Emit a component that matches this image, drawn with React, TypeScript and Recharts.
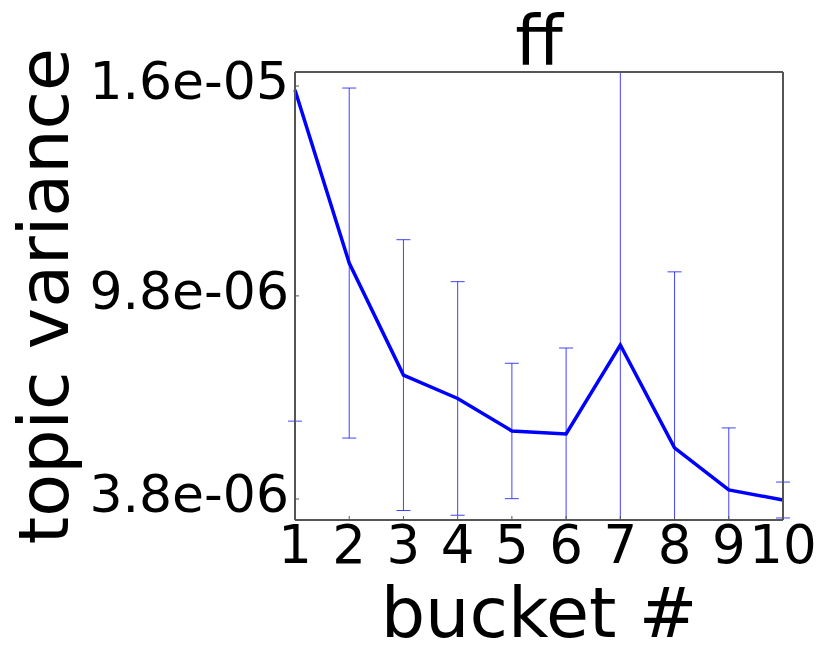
import { LineChart, Line, XAxis, YAxis, ErrorBar } from "recharts";

const buckets = [1, 2, 3, 4, 5, 6, 7, 8, 9, 10];
const meanVariance = [15.88e-6, 10.77e-6, 7.46e-6, 6.77e-6, 5.81e-6, 5.72e-6, 8.35e-6, 5.31e-6, 4.07e-6, 3.77e-6];
const stdVariance = [9.78e-6, 5.17e-6, 4.0e-6, 3.45e-6, 2.0e-6, 2.54e-6, 9.0e-6, 5.2e-6, 1.83e-6, 0.53e-6];
const yTicks = [3.8e-6, 9.8e-6, 1.6e-5];

const data = buckets.map((b, i) => ({ bucket: b, mean: meanVariance[i], err: stdVariance[i] }));

const font = "DejaVu Sans";
const spine = "#555555";
const yDomain = [3.1797e-6, 16.4136e-6];

// matplotlib-ish "1.6e-05"
const fmt = (v: number) => v.toExponential(1).replace(/e([+-])(\d)$/, "e$10$2");

export default function App() {
  return (
    <div style={{ position: "absolute", left: 0, top: 0, width: 830, height: 664, background: "#fff" }}>
      {/* error bars use the line's own plot-area clip */}
      <style>{`.recharts-errorBars, .recharts-errorBar { clip-path: url(#clipPath-variance); }`}</style>
      <LineChart
        width={830}
        height={664}
        data={data}
        margin={{ top: 71, right: 46, left: 0, bottom: 0 }}
      >
        <XAxis
          dataKey="bucket"
          type="number"
          domain={[1, 10]}
          ticks={buckets}
          interval={0}
          height={144}
          axisLine={{ stroke: spine, strokeWidth: 2 }}
          tickLine={{ stroke: spine }}
          tickSize={-4}
          tickMargin={9}
          tick={{ fill: "#000", fontSize: 53, fontFamily: font }}
          label={{
            value: "bucket #",
            position: "insideBottom",
            offset: 27,
            style: { fill: "#000", fontSize: 70, fontFamily: font },
          }}
        />
        <XAxis
          xAxisId="top"
          orientation="top"
          type="number"
          domain={[1, 10]}
          ticks={buckets}
          interval={0}
          height={1}
          axisLine={{ stroke: spine, strokeWidth: 2 }}
          tickLine={{ stroke: spine }}
          tickSize={-4}
          tick={false}
          label={{
            value: "ff",
            position: "top",
            offset: 6,
            style: { fill: "#000", fontSize: 69, fontFamily: font },
          }}
        />
        <YAxis
          type="number"
          domain={yDomain}
          allowDataOverflow
          ticks={yTicks}
          interval={0}
          width={295}
          axisLine={{ stroke: spine, strokeWidth: 2 }}
          tickLine={{ stroke: spine }}
          tickSize={-4}
          tickMargin={10}
          tickFormatter={fmt}
          tick={{ fill: "#000", fontSize: 52, fontFamily: font, dy: -5 }}
          label={{
            value: "topic variance",
            angle: -90,
            position: "center",
            dx: -104,
            style: { fill: "#000", fontSize: 70, fontFamily: font },
          }}
        />
        <YAxis
          yAxisId="right"
          orientation="right"
          type="number"
          domain={yDomain}
          allowDataOverflow
          ticks={yTicks}
          interval={0}
          width={1}
          axisLine={{ stroke: spine, strokeWidth: 2 }}
          tickLine={{ stroke: spine }}
          tickSize={-4}
          tick={false}
        />
        <Line
          id="variance"
          dataKey="mean"
          type="linear"
          stroke="#0000ff"
          strokeWidth={3.5}
          dot={false}
          isAnimationActive={false}
        >
          <ErrorBar
            dataKey="err"
            direction="y"
            width={7}
            stroke="#2222ff"
            strokeWidth={1}
            strokeOpacity={0.85}
            isAnimationActive={false}
          />
        </Line>
      </LineChart>
    </div>
  );
}
